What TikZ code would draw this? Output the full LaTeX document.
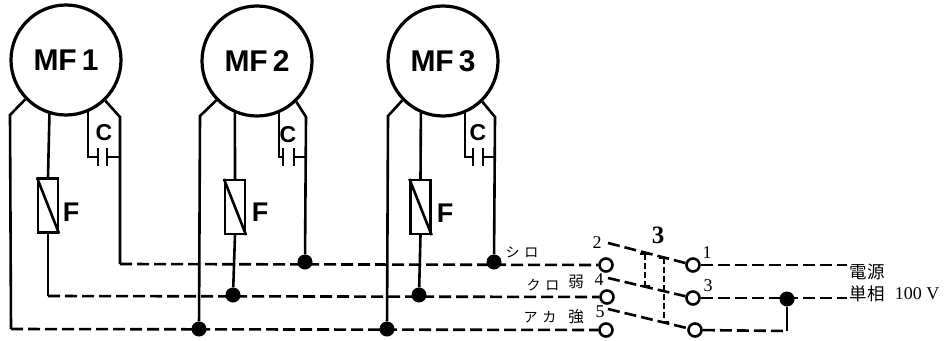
\documentclass[tikz,border=0pt]{standalone}
\usepackage{fontspec}
\usetikzlibrary{arrows.meta}
\newfontfamily\labfont{Liberation Sans}
\newfontfamily\numfont{Liberation Serif}
\newfontfamily\cjk{Noto Sans CJK JP}
\tikzset{
    wire/.style={line width=2.6pt},
    dashwire/.style={line width=2.6pt,dash pattern=on 12pt off 5pt},
    linkwire/.style={line width=1.6pt,dash pattern=on 6pt off 3pt,{Bar[width=10pt]}-{Bar[width=10pt]}},
    motor/.style={circle,draw,line width=3.2pt,minimum size=110pt,inner sep=0pt,font=\fontsize{30}{30}\selectfont\labfont\bfseries},
    fuse/.style={rectangle,draw,line width=2.2pt,minimum width=20pt,minimum height=54pt,inner sep=0pt},
    plate/.style={rectangle,fill,minimum width=2.6pt,minimum height=18pt,inner sep=0pt},
    dot/.style={circle,fill,minimum size=15pt,inner sep=0pt},
    contact/.style={circle,draw,fill=white,line width=2.6pt,minimum size=13pt,inner sep=0pt},
    letter/.style={inner sep=0pt,font=\fontsize{27}{27}\selectfont\labfont\bfseries},
    capletter/.style={inner sep=0pt,font=\fontsize{23}{23}\selectfont\labfont\bfseries},
    num/.style={inner sep=0pt,font=\fontsize{18}{18}\selectfont\numfont},
    jp/.style={inner sep=0pt,font=\fontsize{17.5}{18}\selectfont\cjk},
    kanji/.style={inner sep=0pt,font=\fontsize{15.5}{16}\selectfont\cjk},
    kana/.style={inner sep=0pt,font=\fontsize{14}{14}\selectfont\cjk},
}
\begin{document}
\begin{tikzpicture}[x=1pt,y=-1pt]
    \useasboundingbox (0,0) rectangle (944,340);
    % motors
    \node [motor] (mfa) at (66,60) {MF\,1};
    \node [motor] (mfb) at (257,61) {MF\,2};
    \node [motor] (mfc) at (443,61) {MF\,3};
    % fuses
    \node [fuse] (fa) at (48,205.5) {};
    \node [fuse] (fb) at (235,207) {};
    \node [fuse] (fc) at (420.5,207) {};
    \draw [wire] (fa.north west)--(fa.south east);
    \draw [wire] (fb.north west)--(fb.south east);
    \draw [wire] (fc.north west)--(fc.south east);
    \node [letter] (lfa) at (71,212) {F};
    \node [letter] (lfb) at (260,212) {F};
    \node [letter] (lfc) at (445,213) {F};
    % capacitors
    \node [plate] (pa) at (98,157) {};
    \node [plate] (qa) at (107,157) {};
    \node [plate] (pb) at (283,157) {};
    \node [plate] (qb) at (294,157) {};
    \node [plate] (pc) at (473,157) {};
    \node [plate] (qc) at (483,157) {};
    \node [capletter] (lca) at (104,133) {C};
    \node [capletter] (lcb) at (288,135) {C};
    \node [capletter] (lcc) at (478,133) {C};
    % bus corners and dots
    \coordinate (cla) at (10,115);
    \coordinate (bla) at (11,329);
    \coordinate (bma) at (48,296);
    \coordinate (cra) at (120,117);
    \coordinate (bra) at (120,264);
    \coordinate (clb) at (200,116);
    \coordinate (crb) at (306,117);
    \coordinate (clc) at (388,116);
    \coordinate (crc) at (495,117);
    \node [dot] (dlb) at (199,329) {};
    \node [dot] (dmb) at (233,295) {};
    \node [dot] (drb) at (305,262) {};
    \node [dot] (dlc) at (387,329) {};
    \node [dot] (dmc) at (419,295) {};
    \node [dot] (drc) at (494,262) {};
    % switch contacts
    \node [contact] (kb) at (606,265) {};
    \node [contact] (kd) at (607,297) {};
    \node [contact] (ke) at (606,330) {};
    \node [contact] (ka) at (693,265) {};
    \node [contact] (kc) at (693,298) {};
    \node [contact] (kf) at (695,330) {};
    \coordinate (bb) at (608,243);
    \coordinate (bd) at (608,278);
    \coordinate (be) at (608,309);
    \coordinate (ta) at (645,253);
    \coordinate (tb) at (645,287);
    \coordinate (tc) at (664,257);
    \coordinate (td) at (664,323);
    % supply side
    \coordinate (ea) at (847,265);
    \coordinate (ec) at (847,298);
    \coordinate (ef) at (787,331);
    \node [dot] (ds) at (787,299) {};
    % solid leads
    \draw [wire] (mfa.-136)--(cla)--(bla);
    \draw [wire] (mfa.-107)--(fa.north);
    \draw [wire] (fa.south)--(bma);
    \draw [wire] (mfa.-46)--(cra)--(bra);
    \draw [wire] (mfa.-67) |- (pa.center);
    \draw [wire] (qa.center) -| (cra);
    \draw [wire] (mfb.-136)--(clb)--(dlb);
    \draw [wire] (mfb.-113)--(fb.north);
    \draw [wire] (fb.south)--(dmb);
    \draw [wire] (mfb.-46)--(crb)--(drb);
    \draw [wire] (mfb.-67) |- (pb.center);
    \draw [wire] (qb.center) -| (crb);
    \draw [wire] (mfc.-136)--(clc)--(dlc);
    \draw [wire] (mfc.-113)--(fc.north);
    \draw [wire] (fc.south)--(dmc);
    \draw [wire] (mfc.-46)--(crc)--(drc);
    \draw [wire] (mfc.-67) |- (pc.center);
    \draw [wire] (qc.center) -| (crc);
    \draw [wire] (ds)--(ef);
    % dashed buses
    \draw [dashwire] (bra)--(kb);
    \draw [dashwire] (bma)--(kd);
    \draw [dashwire] (bla)--(ke);
    \draw [dashwire] (ka)--(ea);
    \draw [dashwire] (kc)--(ec);
    \draw [dashwire] (kf)--(ef);
    % switch blades and links
    \draw [dashwire] (bb)--(ka);
    \draw [dashwire] (bd)--(kc);
    \draw [dashwire] (be)--(kf);
    \draw [linkwire] (ta)--(tb);
    \draw [linkwire] (tc)--(td);
    % labels
    \node [num,font=\fontsize{25}{25}\selectfont\numfont\bfseries] (nsw) at (658,235) {3};
    \node [num] (nb) at (597,243) {2};
    \node [num] (nd) at (599,280) {4};
    \node [num] (ne) at (600,312) {5};
    \node [num] (na) at (707,253) {1};
    \node [num] (nc) at (708,286) {3};
    \node [kana] (lw) at (522,252) {シ\,\,ロ};
    \node [kana] (lk) at (543,285) {ク\,\,ロ};
    \node [kana] (lr) at (540,317) {ア\,\,カ};
    \node [kanji] (lj) at (576,282) {弱};
    \node [kanji] (ls) at (576,317) {強};
    \node [jp] (lp) at (867,272) {電源};
    \node [jp] (lt) at (867,294) {単相};
    \node [num] (lv) at (917,294) {100 V};
\end{tikzpicture}
\end{document}
